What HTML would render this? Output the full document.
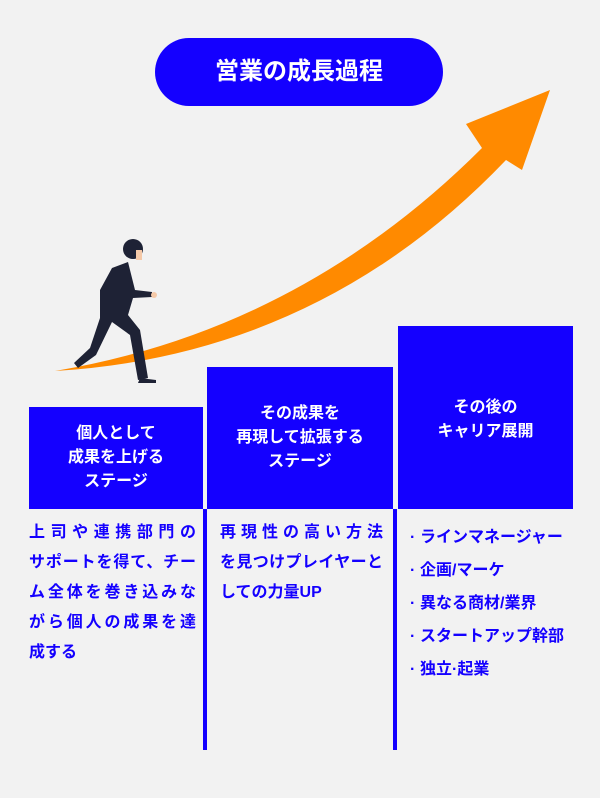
<!DOCTYPE html>
<html><head><meta charset="utf-8"><style>
body{margin:0;width:600px;height:798px;background:#f2f2f2;position:relative;overflow:hidden;font-family:"Liberation Sans","Noto Sans CJK JP",sans-serif;font-weight:bold}
.pill{position:absolute;left:155px;top:38px;width:288px;height:68px;border-radius:34px;background:#1400ff;color:#fff;font-size:24px;line-height:68px;text-align:center}
.box{position:absolute;background:#1400ff;color:#fff;font-size:16px;line-height:24px;text-align:center;display:flex;align-items:center;justify-content:center}
.vl{position:absolute;background:#1400ff;width:4px;top:509px;height:241px}
.txt{position:absolute;color:#1400ff;font-size:16px;line-height:30px}
.txt div.j{text-align:justify;text-align-last:justify}
.l{position:absolute;color:#1400ff;font-size:16px;line-height:33px}
.l b{display:inline-block;width:10px}
</style></head><body>
<svg width="600" height="798" style="position:absolute;left:0;top:0">
<path d="M55 371 Q300 330 482 148 L466 124 L550 90 L522 170 L506 160 Q320 355 55 371 Z" fill="#ff8a00"/>
<g fill="#1e2235">
<circle cx="133" cy="249" r="10"/>
<path d="M112 268 L128 262 L135 290 L152 292 L152 297 L133 298 L128 315 L140 330 L148 378 L138 380 L130 335 L112 322 L96 355 L78 368 L74 363 L90 348 L100 318 L100 290 Z"/>
<path d="M140 378 L156 380 L156 383 L138 383 Z"/>
</g>
<circle cx="154" cy="295" r="3" fill="#f5c9a8"/>
<rect x="136" y="250" width="6" height="10" fill="#f5c9a8"/>
</svg>
<div class="pill">営業の成長過程</div>
<div class="box" style="left:29px;top:407px;width:174px;height:102px">個人として<br>成果を上げる<br>ステージ</div>
<div class="box" style="left:207px;top:367px;width:186px;height:142px;align-items:flex-start;padding-top:35px;box-sizing:border-box">その成果を<br>再現して拡張する<br>ステージ</div>
<div class="box" style="left:398px;top:326px;width:175px;height:183px;align-items:flex-start;padding-top:70px;box-sizing:border-box">その後の<br>キャリア展開</div>
<div class="vl" style="left:203px"></div>
<div class="vl" style="left:393px"></div>
<div class="txt" style="left:29px;top:518px;width:167px"><div class="j">上司や連携部門の</div><div class="j">サポートを得て、チー</div><div class="j">ム全体を巻き込みな</div><div class="j">がら個人の成果を達</div><div>成する</div></div>
<div class="txt" style="left:220px;top:518px;width:163px"><div class="j">再現性の高い方法</div><div class="j">を見つけプレイヤーと</div><div>しての力量UP</div></div>
<div class="l" style="left:410px;top:521px"><b>·</b>ラインマネージャー<br><b>·</b>企画/マーケ<br><b>·</b>異なる商材/業界<br><b>·</b>スタートアップ幹部<br><b>·</b>独立·起業</div>
</body></html>
